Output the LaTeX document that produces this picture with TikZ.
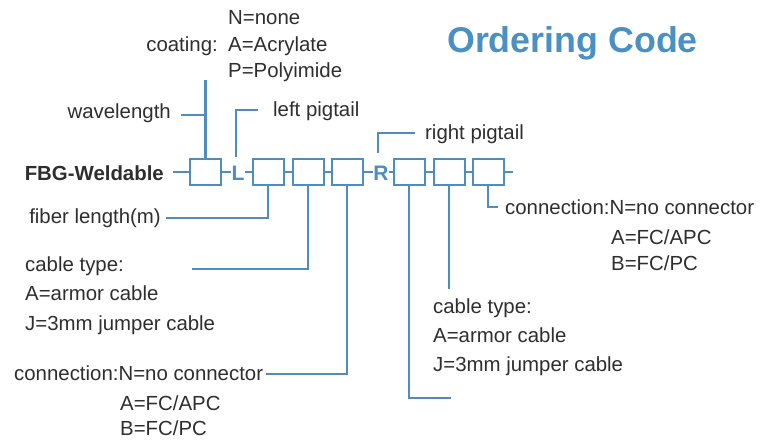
\documentclass[tikz,border=0pt]{standalone}
\usepackage{fontspec}
\setmainfont{Liberation Sans}
\definecolor{lineblue}{HTML}{4F8DBF}
\definecolor{titleblue}{HTML}{4A90C2}
\definecolor{txt}{HTML}{2E2E2E}
\begin{document}
\begin{tikzpicture}[x=1pt,y=-1pt,
  codebox/.style={draw=lineblue,line width=2pt,minimum width=31pt,minimum height=26pt,inner sep=0pt},
  conn/.style={draw=lineblue,line width=2.4pt},
  lbl/.style={text=txt,font=\fontsize{20.4}{24}\selectfont,inner sep=0pt},
  letter/.style={text=lineblue,font=\fontsize{21}{24}\selectfont\bfseries,inner sep=0pt}]
\useasboundingbox (0,0) rectangle (760,439);
% title
\node[anchor=base west,text=titleblue,font=\fontsize{35.8}{40}\selectfont\bfseries,inner sep=0pt] (title) at (447,52.5) {Ordering Code};
% main row
\node[anchor=base east,lbl,font=\fontsize{20.4}{24}\selectfont\bfseries] (fbg) at (164,180) {FBG-Weldable};
\node[codebox] (b1) at (205.5,172) {};
\node[letter,anchor=base] (L) at (238,180) {L};
\node[codebox] (b2) at (268,172) {};
\node[codebox] (b3) at (308,172) {};
\node[codebox] (b4) at (347,172) {};
\node[letter,anchor=base] (R) at (381,180) {R};
\node[codebox] (b5) at (409,172) {};
\node[codebox] (b6) at (449,172) {};
\node[codebox] (b7) at (488,172) {};
\coordinate (fbgend) at (173,172);
\coordinate (tail) at (513,172);
\draw[conn,line width=2pt] (fbgend) -- (b1.west);
\draw[conn,line width=2pt] (b1.east) -- (L.west|-b1.east);
\draw[conn,line width=2pt] (L.east|-b2.west) -- (b2.west);
\draw[conn,line width=2pt] (b2.east) -- (b3.west);
\draw[conn,line width=2pt] (b3.east) -- (b4.west);
\draw[conn,line width=2pt] (b4.east) -- (R.west|-b4.east);
\draw[conn,line width=2pt] (R.east|-b5.west) -- (b5.west);
\draw[conn,line width=2pt] (b5.east) -- (b6.west);
\draw[conn,line width=2pt] (b6.east) -- (b7.west);
\draw[conn,line width=2pt] (b7.east) -- (tail);
% coating / wavelength
\node[lbl,anchor=base east] (coat) at (218,51) {coating:};
\node[lbl,anchor=base west] (cN) at (228,24) {N=none};
\node[lbl,anchor=base west] (cA) at (228,51) {A=Acrylate};
\node[lbl,anchor=base west] (cP) at (228,77) {P=Polyimide};
\coordinate (coattop) at (205.5,80);
\draw[conn] (b1.north) -- (coattop);
\node[lbl,anchor=base east] (wave) at (171,118) {wavelength};
\coordinate (wavestart) at (181,115);
\draw[conn] (wavestart) -- (205.5,115);
% left pigtail
\node[lbl,anchor=base west] (lp) at (273,116) {left pigtail};
\coordinate (lpend) at (258,110);
\draw[conn] (236,157) -- (236,110) -- (lpend);
% right pigtail
\node[lbl,anchor=base west] (rp) at (425,139) {right pigtail};
\coordinate (rpend) at (415,133);
\draw[conn] (378,153) -- (378,133) -- (rpend);
% fiber length
\node[lbl,anchor=base east] (fl) at (161,223) {fiber length(m)};
\coordinate (flend) at (166,218);
\draw[conn] (b2.south) |- (flend);
% cable type left
\node[lbl,anchor=base west] (ct1) at (25,271) {cable type:};
\node[lbl,anchor=base west] (ct1a) at (25,300) {A=armor cable};
\node[lbl,anchor=base west] (ct1j) at (25,330) {J=3mm jumper cable};
\coordinate (ct1end) at (192,269);
\draw[conn] (b3.south) |- (ct1end);
% connection left
\node[lbl,anchor=base west] (cn1) at (14,380) {connection:N=no connector};
\node[lbl,anchor=base west] (cn1a) at (120,410) {A=FC/APC};
\node[lbl,anchor=base west] (cn1b) at (120,435) {B=FC/PC};
\coordinate (cn1end) at (266,374);
\draw[conn] (b4.south) |- (cn1end);
% right side
\coordinate (b5end) at (451,398);
\draw[conn] (b5.south) |- (b5end);
\coordinate (b6end) at (449,289);
\draw[conn] (b6.south) -- (b6end);
\node[lbl,anchor=base west] (ct2) at (433,313) {cable type:};
\node[lbl,anchor=base west] (ct2a) at (433,342) {A=armor cable};
\node[lbl,anchor=base west] (ct2j) at (433,371) {J=3mm jumper cable};
\coordinate (b7end) at (498,207);
\draw[conn] (b7.south) |- (b7end);
\node[lbl,anchor=base west] (cn2) at (505,214) {connection:N=no connector};
\node[lbl,anchor=base west] (cn2a) at (611,244) {A=FC/APC};
\node[lbl,anchor=base west] (cn2b) at (611,270) {B=FC/PC};
\end{tikzpicture}
\end{document}
